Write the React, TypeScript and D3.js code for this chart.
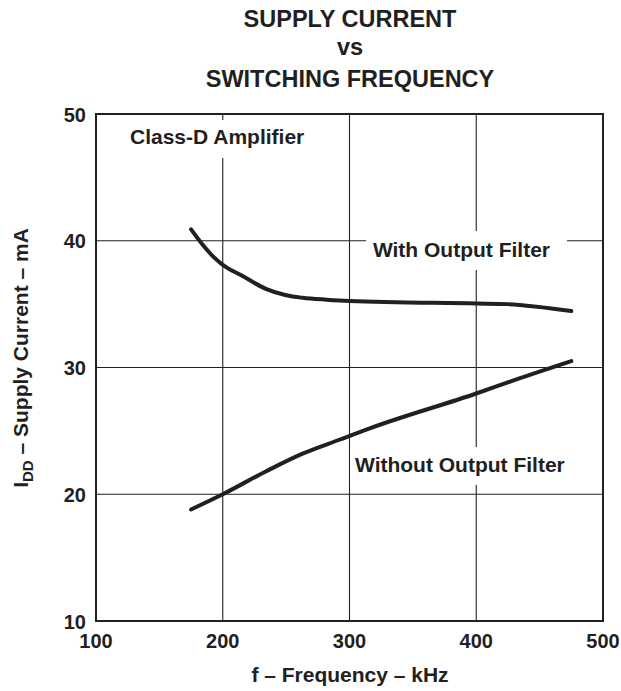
import React from "react";
import * as d3 from "d3";

const titleLines = ["SUPPLY CURRENT", "vs", "SWITCHING FREQUENCY"];
const xTicks = [100, 200, 300, 400, 500];
const yTicks = [10, 20, 30, 40, 50];

const withFilterFreq = [175, 184.5, 192.5, 200, 216, 234, 250, 263, 282, 300, 400, 425, 475];
const withFilterCurrent = [40.9, 39.65, 38.75, 38.1, 37.2, 36.2, 35.7, 35.5, 35.35, 35.25, 35.05, 35.0, 34.45];

const withoutFilterFreq = [175, 200, 234, 263, 292, 316, 400, 430, 475];
const withoutFilterCurrent = [18.8, 20.0, 21.8, 23.2, 24.3, 25.2, 27.95, 29.0, 30.5];

const W = 621;
const H = 691;
const FONT = "'Liberation Sans', Arial, Helvetica, sans-serif";

export default function App() {
  const x = d3.scaleLinear().domain([100, 500]).range([96, 603]);
  const y = d3.scaleLinear().domain([10, 50]).range([621, 114]);

  const line = d3
    .line<[number, number]>()
    .x((d) => x(d[0]))
    .y((d) => y(d[1]))
    .curve(d3.curveMonotoneX);

  const upper: [number, number][] = withFilterFreq.map((f, i) => [f, withFilterCurrent[i]]);
  const lower: [number, number][] = withoutFilterFreq.map((f, i) => [f, withoutFilterCurrent[i]]);

  return (
    <svg
      width={W}
      height={H}
      style={{ position: "absolute", left: 0, top: 0, background: "#fff" }}
      fontFamily={FONT}
      fontWeight="bold"
    >
      <rect x={0} y={0} width={W} height={H} fill="#fff" />
      {/* title */}
      <g fill="#231f20" fontSize={23.5} textAnchor="middle">
        <text x={350} y={27}>{titleLines[0]}</text>
        <text x={350} y={55}>{titleLines[1]}</text>
        <text x={350} y={87}>{titleLines[2]}</text>
      </g>
      {/* grid */}
      <g stroke="#231f20" strokeWidth={1.1}>
        {xTicks.slice(1, -1).map((t) => (
          <line key={"gx" + t} x1={x(t)} x2={x(t)} y1={y(50)} y2={y(10)} />
        ))}
        {yTicks.slice(1, -1).map((t) => (
          <line key={"gy" + t} x1={x(100)} x2={x(500)} y1={y(t)} y2={y(t)} />
        ))}
      </g>
      {/* label backgrounds */}
      <g fill="#fff">
        <rect x={124} y={120} width={192} height={38} />
        <rect x={366} y={231} width={201} height={39} />
        <rect x={350} y={447} width={222} height={38} />
      </g>
      {/* frame */}
      <rect
        x={x(100)}
        y={y(50)}
        width={x(500) - x(100)}
        height={y(10) - y(50)}
        fill="none"
        stroke="#231f20"
        strokeWidth={2}
      />
      {/* curves */}
      <g fill="none" stroke="#231f20" strokeWidth={4} strokeLinecap="round" strokeLinejoin="round">
        <path d={line(upper) || ""} />
        <path d={line(lower) || ""} />
      </g>
      {/* annotations */}
      <g fill="#231f20" fontSize={21}>
        <text x={130} y={143.5}>Class-D Amplifier</text>
        <text x={550} y={257} textAnchor="end">With Output Filter</text>
        <text x={355} y={472}>Without Output Filter</text>
      </g>
      {/* y tick labels */}
      <g fill="#231f20" fontSize={20} textAnchor="end">
        {yTicks.map((t) => (
          <text key={"yt" + t} x={86} y={y(t) + 7.5}>{t}</text>
        ))}
      </g>
      {/* x tick labels */}
      <g fill="#231f20" fontSize={20} textAnchor="middle">
        {xTicks.map((t) => (
          <text key={"xt" + t} x={x(t)} y={648}>{t}</text>
        ))}
      </g>
      {/* axis titles */}
      <text x={350} y={682} fontSize={21} textAnchor="middle" fill="#231f20">
        f – Frequency – kHz
      </text>
      <text transform="translate(28,358) rotate(-90)" fontSize={21} textAnchor="middle" fill="#231f20">
        I<tspan fontSize={15} dy={5}>DD</tspan>
        <tspan dy={-5}> – Supply Current – mA</tspan>
      </text>
    </svg>
  );
}
